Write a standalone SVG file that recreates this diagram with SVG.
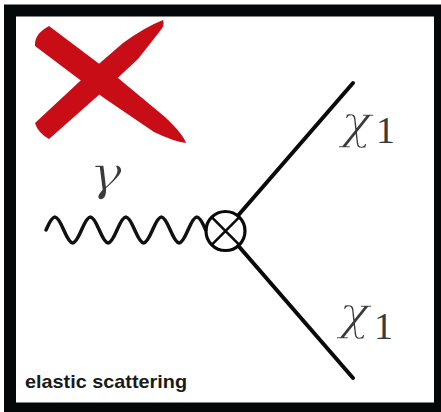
<svg xmlns="http://www.w3.org/2000/svg" width="441" height="412" viewBox="0 0 441 412">
  <style>
    .line { fill: none; stroke: #0a0a0a; stroke-width: 4; stroke-linecap: round; }
    .wave { fill: none; stroke: #111; stroke-width: 3.5; stroke-linecap: round; }
    .greek { font-family: "DejaVu Serif", "Liberation Serif", serif; font-style: italic; fill: #3a3a3a; stroke: #ffffff; stroke-width: 1.3px; }
    .digit { font-family: "Liberation Serif", "DejaVu Serif", serif; fill: #3a3a3a; font-size: 38px; }
    .caption { font-family: "Liberation Sans", Arial, sans-serif; font-weight: bold; font-size: 18.5px; fill: #1a1a1a; }
  </style>
  <rect x="0" y="0" width="441" height="412" fill="#ffffff"/>
  <g id="frame">
    <rect x="10" y="10.5" width="430" height="398" fill="#ffffff" stroke="#050808" stroke-width="12"/>
  </g>
  <g id="red-cross" fill="#c80d16">
    <path d="M49,26 L118,78 L165,117 Q183,134 186,143 Q175,142 154,132 L104,98 L35,46 Q34,34 49,26 Z"/>
    <path d="M163,20 Q165,26 160,31 L138,59 L109,86 L49,139 Q38,133 35,123 L93,69 L123,43 Q145,27 163,20 Z"/>
  </g>
  <g id="connectors">
    <path id="photon" class="wave" d="M46,230 c7.53,-17.33 10.22,-17.33 17.75,0 s10.22,17.33 17.75,0 s10.22,-17.33 17.75,0 s10.22,17.33 17.75,0 s10.22,-17.33 17.75,0 s10.22,17.33 17.75,0 s10.22,-17.33 17.75,0 s10.22,17.33 17.75,0 s10.22,-17.33 17.75,0"/>
    <line id="chi-out-upper" class="line" x1="238.5" y1="215" x2="353" y2="83"/>
    <line id="chi-out-lower" class="line" x1="238.5" y1="246" x2="353" y2="378"/>
  </g>
  <g id="vertex" fill="none" stroke="#0a0a0a">
    <circle cx="225.5" cy="231" r="19.5" stroke-width="3.2"/>
    <path d="M211.7,217.2 L239.3,244.8 M239.3,217.2 L211.7,244.8" stroke-width="2.6"/>
  </g>
  <g id="label-gamma">
    <text class="greek" transform="translate(89,190) scale(1.15,1)" x="0" y="0" font-size="48">γ</text>
  </g>
  <g id="label-chi-upper">
    <text class="greek" transform="translate(341,138) scale(1.1,1)" x="0" y="0" font-size="46">χ</text>
    <text class="digit" x="376" y="143">1</text>
  </g>
  <g id="label-chi-lower">
    <text class="greek" transform="translate(339,329) scale(1.1,1)" x="0" y="0" font-size="46">χ</text>
    <text class="digit" x="374" y="339">1</text>
  </g>
  <g id="caption">
    <text class="caption" x="25" y="388" textLength="162" lengthAdjust="spacingAndGlyphs">elastic scattering</text>
  </g>
</svg>
